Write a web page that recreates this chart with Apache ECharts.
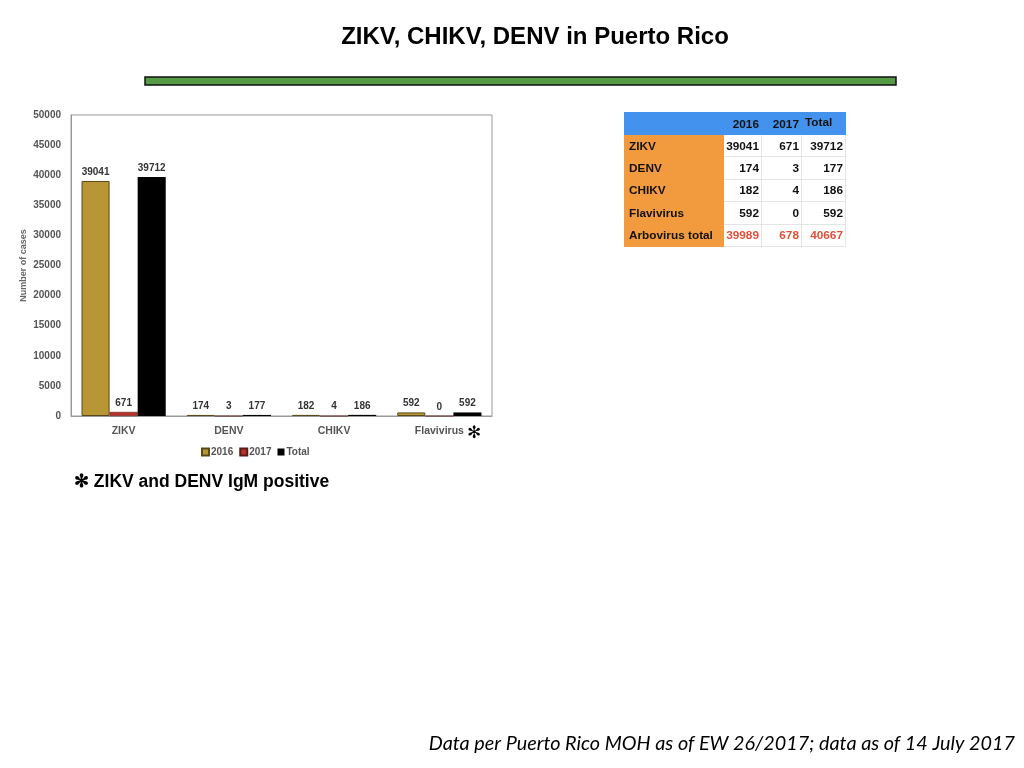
<!DOCTYPE html>
<html><head><meta charset="utf-8">
<script src="https://cdn.jsdelivr.net/npm/echarts@6/dist/echarts.min.js"></script>
<style>
html,body{margin:0;padding:0;background:#fff;}
#c{position:absolute;left:0;top:0;width:1024px;height:768px;}
#tbl{position:absolute;left:624px;top:112px;width:221px;table-layout:fixed;border-collapse:collapse;font-family:"Liberation Sans",Arial,sans-serif;font-weight:bold;font-size:11.8px;color:#111;}
#tbl td{padding:0 2px;height:21.4px;border:1px solid #e4e4e4;text-align:right;overflow:hidden;white-space:nowrap;}
#tbl tr.h td{background:#4393EE;border-color:#4393EE;height:21px;}
#tbl td.l{background:#F19A3E;border-color:#F19A3E;text-align:left;padding-left:4px;}
#tbl td.r{color:#E2503A;}
#tbl span.up{position:relative;top:-2px;}
</style></head>
<body>
<div id="c"></div>
<table id="tbl"><colgroup><col style="width:99px"><col style="width:38px"><col style="width:40px"><col style="width:44px"></colgroup><tbody id="tb"></tbody></table>
<script>
const categories = ['ZIKV','DENV','CHIKV','Flavivirus'];
const v2016 = [39041, 174, 182, 592];
const v2017 = [671, 3, 4, 0];
const vTotal = [39712, 177, 186, 592];
const tableRows = ['ZIKV','DENV','CHIKV','Flavivirus'];
const tableHead = ['2016','2017','Total'];
const arboTotal = [39989, 678, 40667];

// table
let html = '<tr class="h"><td></td>' + tableHead.map((h,i)=>i==2 ? '<td style="text-align:left;padding-left:3px"><span class="up">'+h+'</span></td>' : '<td>'+h+'</td>').join('') + '</tr>';
tableRows.forEach((r,i)=>{
  html += '<tr><td class="l">'+r+'</td><td>'+v2016[i]+'</td><td>'+v2017[i]+'</td><td>'+vTotal[i]+'</td></tr>';
});
html += '<tr><td class="l">Arbovirus total</td>' + arboTotal.map(v=>'<td class="r">'+v+'</td>').join('') + '</tr>';
document.getElementById('tb').innerHTML = html;

const chart = echarts.init(document.getElementById('c'));
const F = '"Liberation Sans", Arial, sans-serif';
const lbl = {show:true, position:'top', distance:4, fontFamily:F, fontWeight:'bold', fontSize:10, color:'#333'};
chart.setOption({
  animation:false,
  textStyle:{fontFamily:F},
  grid:{left:71, top:115, width:421, height:301, show:true, borderColor:'#999', borderWidth:1},
  legend:{top:442, left:196, itemWidth:7, itemHeight:7, itemGap:6, icon:'rect',
    textStyle:{fontFamily:F, fontWeight:'bold', fontSize:10, color:'#555', padding:[0,0,0,-3]},
    data:['2016','2017','Total']},
  xAxis:{type:'category', data:categories,
    axisLine:{lineStyle:{color:'#999'}}, axisTick:{show:false},
    axisLabel:{fontFamily:F, fontWeight:'bold', fontSize:10.5, color:'#555', margin:10}},
  yAxis:{type:'value', min:0, max:50000, interval:5000,
    name:'Number of cases', nameLocation:'middle', nameGap:43, nameRotate:90,
    nameTextStyle:{fontFamily:F, fontWeight:'bold', fontSize:9, color:'#666'},
    axisLine:{show:true, lineStyle:{color:'#999'}}, axisTick:{show:false}, splitLine:{show:false},
    axisLabel:{fontFamily:F, fontWeight:'bold', fontSize:10, color:'#555', margin:10, formatter:v=>String(v)}},
  series:[
    {name:'2016', type:'bar', data:v2016, barGap:'0%', barCategoryGap:'20%',
      itemStyle:{color:'#B99635', borderColor:'#5a4a1a', borderWidth:1}, label:lbl},
    {name:'2017', type:'bar', data:v2017,
      itemStyle:{color:'#B8312A', borderColor:'#5a1a1a', borderWidth:0.5}, label:lbl},
    {name:'Total', type:'bar', data:vTotal,
      itemStyle:{color:'#000'}, label:lbl}
  ],
  graphic:[
    {type:'text', x:535, y:25, style:{text:'ZIKV, CHIKV, DENV in Puerto Rico', font:'bold 24px "Liberation Sans", Arial', fill:'#000', textAlign:'center'}},
    {type:'rect', shape:{x:145, y:77, width:751, height:8}, style:{fill:'#559A45', stroke:'#111', lineWidth:1.5}},
    {type:'text', left:467, top:425, style:{text:'✻', font:'bold 17px "DejaVu Sans"', fill:'#000'}},
    {type:'text', left:74, top:473, style:{text:'✻ ZIKV and DENV IgM positive', font:'bold 17.5px "Liberation Sans", Arial', fill:'#000'}},
    {type:'text', right:9, top:734, style:{text:'Data per Puerto Rico MOH as of EW 26/2017; data as of 14 July 2017', font:'italic 19.8px Lato', fill:'#000'}}
  ]
});
</script>
</body></html>
